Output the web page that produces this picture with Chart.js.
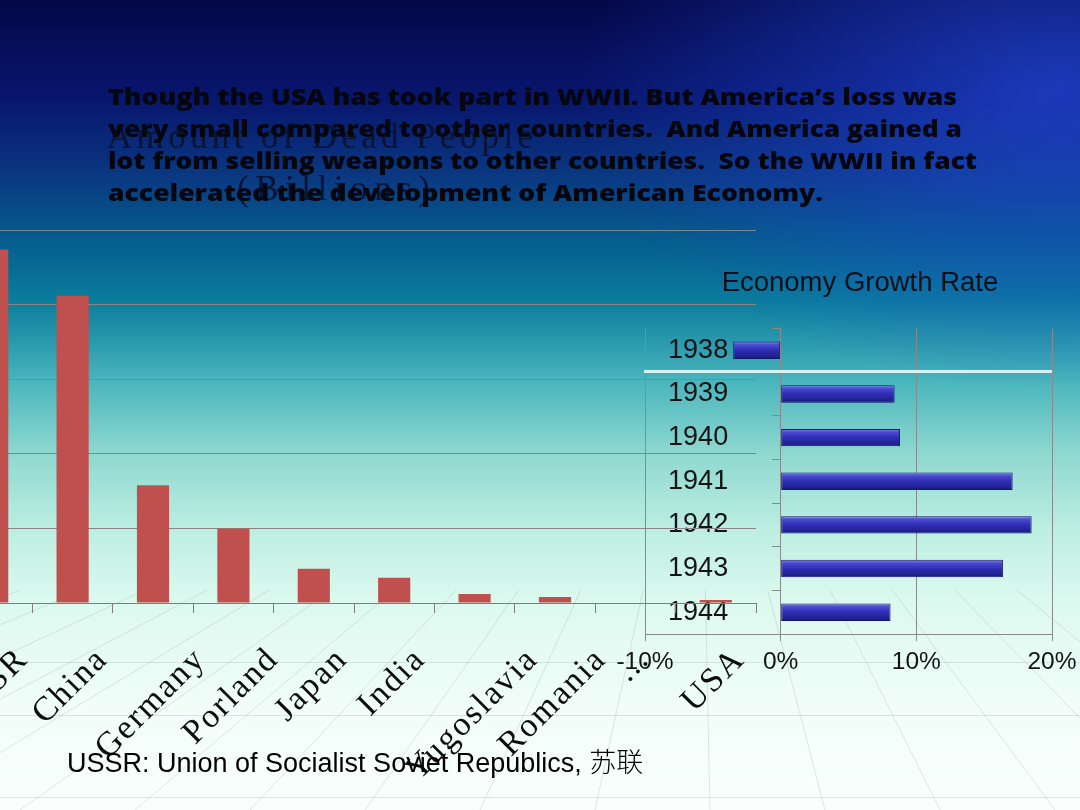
<!DOCTYPE html>
<html>
<head>
<meta charset="utf-8">
<script src="https://cdn.jsdelivr.net/npm/chart.js"></script>
<style>
  html, body { margin: 0; padding: 0; }
  body { width: 1080px; height: 810px; overflow: hidden; position: relative; background: #0a3a80; }
  canvas { position: absolute; }
  .txt { position: absolute; white-space: pre; transform-origin: 0 0; }
  .para { font-family: "Open Sans", sans-serif; font-weight: 800; font-size: 22px; line-height: 22px; color: #06060f; left: 108px; }
  .ttl { font-family: "Liberation Serif", serif; font-size: 35px; line-height: 35px; color: rgba(10, 18, 48, 0.95); }
  #note { font-family: "Liberation Sans", Arial, sans-serif; font-size: 27px; line-height: 27px; color: #000; left: 67px; top: 747px; }
  #note span { font-family: "Noto Sans CJK SC", sans-serif; font-weight: 300; }
  #band { position: absolute; left: 644px; top: 370px; width: 408px; height: 3px; background: rgba(228, 246, 246, 0.92); }
</style>
</head>
<body>
<canvas id="bg" width="1080" height="810" style="left:0;top:0"></canvas>
<canvas id="econ" width="470" height="432" style="left:610px;top:250px"></canvas>
<canvas id="dead" width="840" height="810" style="left:-60px;top:0"></canvas>
<div id="band"></div>

<div class="txt ttl" id="t1" data-w="426" style="left:107px;top:119px">Amount of Dead People</div>
<div class="txt ttl" id="t2" data-w="193" style="left:237px;top:171px">(Billions)</div>

<div class="txt para" data-w="849" style="top:85px">Though the USA has took part in WWII. But America’s loss was</div>
<div class="txt para" data-w="854" style="top:117px">very small compared to other countries.  And America gained a</div>
<div class="txt para" data-w="869" style="top:149px">lot from selling weapons to other countries.  So the WWII in fact</div>
<div class="txt para" data-w="715" style="top:181px">accelerated the development of American Economy.</div>

<div class="txt" id="note">USSR: Union of Socialist Soviet Republics, <span>苏联</span></div>

<script>
// chart values
var countries = ['USSR', 'China', 'Germany', 'Porland', 'Japan', 'India', 'Yugoslavia', 'Romania', '...', 'USA'];
var deaths = [23.7, 20.6, 7.9, 5.0, 2.3, 1.7, 0.6, 0.4, 0, 0.2];
var deathMin = 0, deathMax = 25, deathStep = 5;

var years = ['1938', '1939', '1940', '1941', '1942', '1943', '1944'];
var growth = [-3.5, 8.4, 8.8, 17.1, 18.5, 16.4, 8.1];
var growthMin = -10, growthMax = 20, growthStep = 10;

// ---- slide background ----
(function(){
  var c = document.getElementById('bg'), g = c.getContext('2d');
  var lg = g.createLinearGradient(0, 0, 0, 810);
  lg.addColorStop(0, '#040848');
  lg.addColorStop(0.123, '#08166e');
  lg.addColorStop(0.222, '#0a3a82');
  lg.addColorStop(0.284, '#05588a');
  lg.addColorStop(0.370, '#0a7c9c');
  lg.addColorStop(0.469, '#48b4bc');
  lg.addColorStop(0.559, '#8ed8d0');
  lg.addColorStop(0.654, '#bdeee2');
  lg.addColorStop(0.741, '#dcf9ef');
  lg.addColorStop(0.864, '#f0fdf8');
  lg.addColorStop(1, '#fafffd');
  g.fillStyle = lg; g.fillRect(0, 0, 1080, 810);

  // brighter blue glow in the upper right
  g.save();
  g.translate(1060, 90); g.scale(1.6, 1);
  var rg = g.createRadialGradient(0, 0, 0, 0, 0, 300);
  rg.addColorStop(0, 'rgba(40,80,235,0.62)');
  rg.addColorStop(0.5, 'rgba(32,72,220,0.35)');
  rg.addColorStop(1, 'rgba(30,70,210,0)');
  g.fillStyle = rg; g.fillRect(-700, -200, 1400, 600);
  g.restore();

  // floor grid
  g.save();
  g.beginPath(); g.rect(0, 590, 1080, 220); g.clip();
  g.strokeStyle = 'rgba(160,172,172,0.3)'; g.lineWidth = 1;
  [662, 715, 797].forEach(function(y){ g.beginPath(); g.moveTo(0, y + 0.5); g.lineTo(1080, y + 0.5); g.stroke(); });
  for (var bx = -900; bx <= 2300; bx += 115) {
    g.beginPath(); g.moveTo(700, 330); g.lineTo(bx, 810); g.stroke();
  }
  g.restore();
})();

// ---- text fitting ----
function fitWidth(el){
  var w = parseFloat(el.getAttribute('data-w'));
  var r = el.getBoundingClientRect().width;
  el.style.transform = 'scaleX(' + (w / r) + ')';
}
function fitSpacing(el){
  var w = parseFloat(el.getAttribute('data-w'));
  var r = el.getBoundingClientRect().width;
  var n = el.textContent.length;
  el.style.letterSpacing = ((w - r) / (n - 1)) + 'px';
}
document.querySelectorAll('.para').forEach(fitWidth);
fitSpacing(document.getElementById('t1'));
fitSpacing(document.getElementById('t2'));

// ---- left chart: dead people ----
var slantLabels = {
  id: 'slantLabels',
  afterDraw: function(chart){
    var ctx = chart.ctx, xs = chart.scales.x;
    ctx.save();
    ctx.font = '34px "Liberation Serif", serif';
    if ('letterSpacing' in ctx) ctx.letterSpacing = '2px';
    ctx.fillStyle = '#0d0d0d';
    ctx.textAlign = 'center';
    ctx.textBaseline = 'middle';
    countries.forEach(function(name, i){
      var x = xs.getPixelForValue(i) - 2;
      var L = ctx.measureText(name).width;
      var yc = 643 + (L + 32) / (2 * Math.SQRT2);
      ctx.save();
      ctx.translate(x, yc);
      ctx.rotate(-Math.PI / 4);
      ctx.fillText(name, 0, 0);
      ctx.restore();
    });
    ctx.restore();
  }
};

new Chart(document.getElementById('dead').getContext('2d'), {
  type: 'bar',
  data: {
    labels: countries,
    datasets: [{ label: 'Amount of Dead People', data: deaths, backgroundColor: '#c0504d', borderWidth: 0,
                 categoryPercentage: 1, barPercentage: 0.4 }]
  },
  options: {
    responsive: false, animation: false,
    layout: { padding: { left: 12, right: 24, top: 230, bottom: 197 } },
    plugins: { legend: { display: false }, tooltip: { enabled: false }, title: { display: false } },
    scales: {
      x: {
        offset: true,
        grid: { display: true, drawOnChartArea: false, drawTicks: true, tickLength: 10, color: '#7e7e7e', offset: true },
        border: { display: true, color: '#7e7e7e' },
        ticks: { display: false }
      },
      y: {
        min: deathMin, max: deathMax,
        ticks: { display: false, stepSize: deathStep },
        grid: { color: '#868686', drawTicks: false },
        border: { display: false }
      }
    }
  },
  plugins: [slantLabels]
});

// ---- right chart: economy growth ----
function barFill(c){
  var chart = c.chart, ys = chart.scales.y;
  if (!ys || c.type !== 'data') return '#2626a4';
  var m = ys.getPixelForValue(c.dataIndex);
  if (!isFinite(m)) return '#2626a4';
  var g = chart.ctx.createLinearGradient(0, m - 9, 0, m + 9);
  g.addColorStop(0, '#8c8cf2');
  g.addColorStop(0.2, '#4a4ad0');
  g.addColorStop(0.5, '#2e2eb4');
  g.addColorStop(0.85, '#20208f');
  g.addColorStop(1, '#131368');
  return g;
}
function noPad(scale){
  scale.paddingLeft = 0; scale.paddingRight = 0; scale.paddingTop = 0; scale.paddingBottom = 0;
}

var econ = new Chart(document.getElementById('econ').getContext('2d'), {
  type: 'bar',
  data: {
    labels: years,
    datasets: [{ label: 'Economy Growth Rate', data: growth, backgroundColor: barFill,
                 borderColor: '#16166a', borderWidth: 1, borderSkipped: false,
                 categoryPercentage: 1, barPercentage: 0.4 }]
  },
  options: {
    indexAxis: 'y',
    responsive: false, animation: false,
    layout: { padding: { left: 35, right: 28, top: 0, bottom: 2 } },
    plugins: {
      legend: { display: false }, tooltip: { enabled: false },
      title: { display: true, text: '   Economy Growth Rate', color: '#101018',
               font: { family: '"Liberation Sans", Arial, sans-serif', size: 27.5, weight: 'normal', lineHeight: 1 },
               padding: { top: 20, bottom: 31 } }
    },
    scales: {
      x: {
        min: growthMin, max: growthMax,
        afterFit: function(s){ noPad(s); s.height = 46; },
        ticks: { stepSize: growthStep, padding: 7, color: '#141414',
                 font: { family: '"Liberation Sans", Arial, sans-serif', size: 24.5 },
                 callback: function(v){ return v + '%'; } },
        grid: { color: '#868c8c', drawTicks: true, tickLength: 7 },
        border: { display: true, color: '#868c8c' }
      },
      y: {
        position: { x: 0 },
        afterFit: noPad,
        ticks: { color: '#141414', font: { family: '"Liberation Sans", Arial, sans-serif', size: 27 },
                 // labels sit to the left of the 0% axis line
                 callback: function(v, i){ return years[i] + '       '; } },
        grid: { drawOnChartArea: false, drawTicks: true, tickLength: 8, offset: true, color: '#868c8c' },
        border: { display: true, color: '#868c8c' }
      }
    }
  }
});
econ.update();
</script>
</body>
</html>
